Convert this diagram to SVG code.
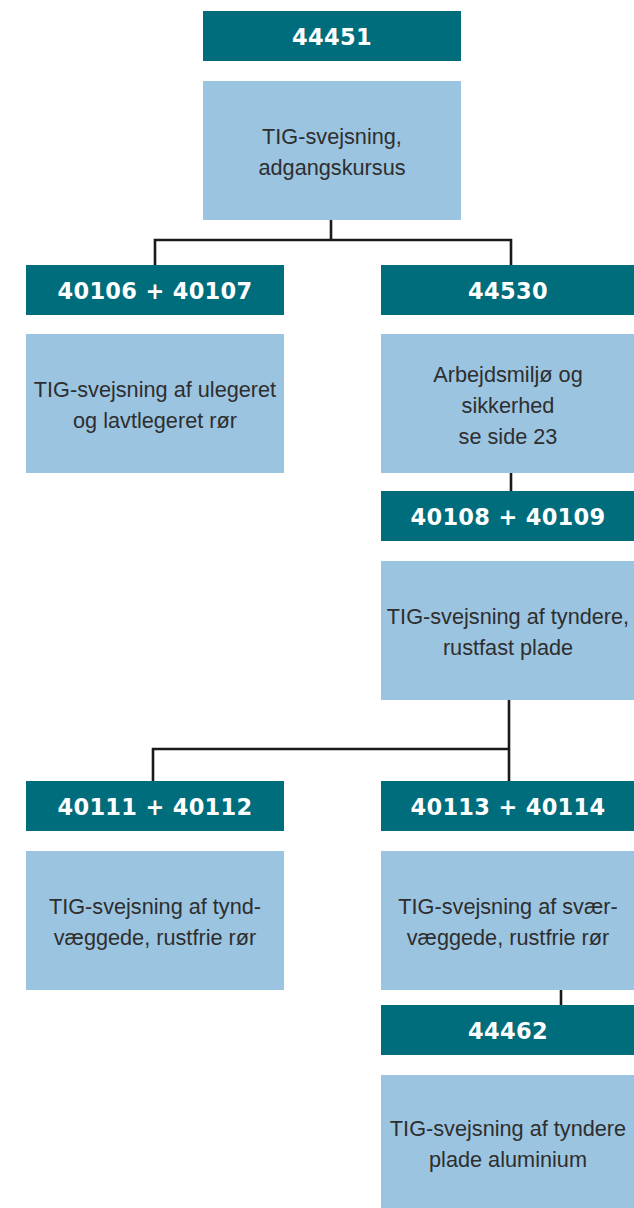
<svg xmlns="http://www.w3.org/2000/svg" width="634" height="1208" viewBox="0 0 634 1208">
<style>
.h{fill:#006D7C}
.b{fill:#9BC4E1}
.ht{font-family:"DejaVu Sans",sans-serif;font-weight:bold;font-size:22.5px;fill:#fff;text-anchor:middle;letter-spacing:0.3px}
.bt{font-family:"Liberation Sans",sans-serif;font-size:21.7px;fill:#2e2e2e;text-anchor:middle}
.c{fill:none;stroke:#1a1a1a;stroke-width:2.6}
</style>
<rect width="634" height="1208" fill="#fff"/>
<g id="connectors">
<path class="c" d="M331 220V240M155 265V240H511V265"/>
<path class="c" d="M511 473V491"/>
<path class="c" d="M509 700V781M153 781V749H509"/>
<path class="c" d="M561 990V1005"/>
</g>
<g id="n44451"><rect class="h" x="203" y="11" width="258" height="50"/><text class="ht" x="332" y="45">44451</text></g>
<g id="d44451"><rect class="b" x="203" y="81" width="258" height="139"/><text class="bt" x="332" y="144">TIG-svejsning,</text><text class="bt" x="332" y="175">adgangskursus</text></g>
<g id="n40106"><rect class="h" x="26" y="265" width="258" height="50"/><text class="ht" x="155" y="299">40106 + 40107</text></g>
<g id="d40106"><rect class="b" x="26" y="334" width="258" height="139"/><text class="bt" x="155" y="397">TIG-svejsning af ulegeret</text><text class="bt" x="155" y="428">og lavtlegeret rør</text></g>
<g id="n44530"><rect class="h" x="381" y="265" width="253" height="50"/><text class="ht" x="508" y="299">44530</text></g>
<g id="d44530"><rect class="b" x="381" y="334" width="253" height="139"/><text class="bt" x="508" y="382">Arbejdsmiljø og</text><text class="bt" x="508" y="413">sikkerhed</text><text class="bt" x="508" y="444">se side 23</text></g>
<g id="n40108"><rect class="h" x="381" y="491" width="253" height="50"/><text class="ht" x="508" y="525">40108 + 40109</text></g>
<g id="d40108"><rect class="b" x="381" y="561" width="253" height="139"/><text class="bt" x="508" y="624">TIG-svejsning af tyndere,</text><text class="bt" x="508" y="655">rustfast plade</text></g>
<g id="n40111"><rect class="h" x="26" y="781" width="258" height="50"/><text class="ht" x="155" y="815">40111 + 40112</text></g>
<g id="d40111"><rect class="b" x="26" y="851" width="258" height="139"/><text class="bt" x="155" y="914">TIG-svejsning af tynd-</text><text class="bt" x="155" y="945">væggede, rustfrie rør</text></g>
<g id="n40113"><rect class="h" x="381" y="781" width="253" height="50"/><text class="ht" x="508" y="815">40113 + 40114</text></g>
<g id="d40113"><rect class="b" x="381" y="851" width="253" height="139"/><text class="bt" x="508" y="914">TIG-svejsning af svær-</text><text class="bt" x="508" y="945">væggede, rustfrie rør</text></g>
<g id="n44462"><rect class="h" x="381" y="1005" width="253" height="50"/><text class="ht" x="508" y="1039">44462</text></g>
<g id="d44462"><rect class="b" x="381" y="1075" width="253" height="133"/><text class="bt" x="508" y="1136">TIG-svejsning af tyndere</text><text class="bt" x="508" y="1167">plade aluminium</text></g>
</svg>
